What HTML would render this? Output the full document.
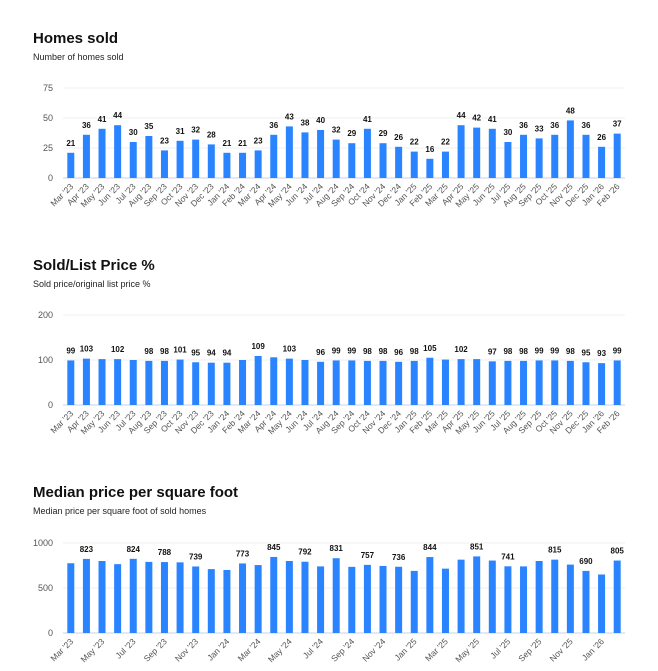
<!DOCTYPE html>
<html><head><meta charset="utf-8"><style>
body{margin:0;background:#fff;font-family:"Liberation Sans",sans-serif;}
svg{display:block}
</style></head><body>
<svg id="s" width="658" height="671"></svg>
<script>
const months=["Mar '23","Apr '23","May '23","Jun '23","Jul '23","Aug '23","Sep '23","Oct '23","Nov '23","Dec '23","Jan '24","Feb '24","Mar '24","Apr '24","May '24","Jun '24","Jul '24","Aug '24","Sep '24","Oct '24","Nov '24","Dec '24","Jan '25","Feb '25","Mar '25","Apr '25","May '25","Jun '25","Jul '25","Aug '25","Sep '25","Oct '25","Nov '25","Dec '25","Jan '26","Feb '26"];
const homesSold=[21,36,41,44,30,35,23,31,32,28,21,21,23,36,43,38,40,32,29,41,29,26,22,16,22,44,42,41,30,36,33,36,48,36,26,37];
const soldList=[99,103,102,102,100,98,98,101,95,94,94,100,109,106,103,100,96,99,99,98,98,96,98,105,101,102,102,97,98,98,99,99,98,95,93,99];
const soldListShown=[1,1,0,1,0,1,1,1,1,1,1,0,1,0,1,0,1,1,1,1,1,1,1,1,0,1,0,1,1,1,1,1,1,1,1,1];
const ppsf=[775,823,800,765,824,790,788,785,739,710,700,773,755,845,800,792,740,831,735,757,745,736,690,844,715,815,851,805,741,740,800,815,760,690,650,805];
const ppsfShown=[0,1,0,0,1,0,1,0,1,0,0,1,0,1,0,1,0,1,0,1,0,1,0,1,0,0,1,0,1,0,0,1,0,1,0,1];
const ticks1=[0,25,50,75], ticks2=[0,100,200], ticks3=[0,500,1000];
const NS="http://www.w3.org/2000/svg";
const svg=document.getElementById('s');
function el(t,a,txt){const e=document.createElementNS(NS,t);for(const k in a)e.setAttribute(k,a[k]);if(txt!==undefined)e.textContent=txt;svg.appendChild(e);return e;}
function chart(o){
  const t=el('text',{x:33,y:o.ty,'font-size':15,'font-weight':'bold',fill:'#111'},o.title);
  
  
  const st=el('text',{x:33,y:o.ty+17,'font-size':9,fill:'#222'},o.sub);
  
  
  const x0=63,x1=625,y0=o.y0,h=90,max=o.max;
  const y=v=>y0-v/max*h;
  const step=(x1-x0)/months.length;
  const xc=i=>x0+step*(i+0.5);
  o.ticks.forEach(v=>{
    const g=el('line',{x1:x0,x2:x1,y1:y(v),y2:y(v),stroke:v===0?'#c8d0e8':'#eceff3','stroke-width':1});
    
    
    const l=el('text',{x:x0-10,y:y(v)+3,'font-size':9,fill:'#555','text-anchor':'end'},v);
    
    
  });
  o.vals.forEach((v,i)=>{
    const b=el('rect',{x:xc(i)-3.5,y:y(v),width:7,height:y0-y(v),fill:'#2b84ff'});
    
    
    if(o.show(i)){
      const l=el('text',{x:xc(i),y:y(v)-7,'font-size':8,'font-weight':'bold',fill:'#111','text-anchor':'middle'},v);
      
      
    }
  });
  months.forEach((m,i)=>{
    if(o.every2 && i%2) return;
    const xx=xc(i)+3,yy=y0+9;
    const l=el('text',{x:xx,y:yy,'font-size':8.5,fill:'#555','text-anchor':'end',transform:`rotate(-45 ${xx} ${yy})`},m);
    
    
  });
}
chart({key:'homes-sold',title:'Homes sold',sub:'Number of homes sold',ty:43,y0:178,max:75,ticks:ticks1,vals:homesSold,show:()=>true});
chart({key:'sold-list',title:'Sold/List Price %',sub:'Sold price/original list price %',ty:270,y0:405,max:200,ticks:ticks2,vals:soldList,show:i=>soldListShown[i]});
chart({key:'ppsf',title:'Median price per square foot',sub:'Median price per square foot of sold homes',ty:497,y0:633,max:1000,ticks:ticks3,vals:ppsf,show:i=>ppsfShown[i],every2:true});
</script>
</body></html>
